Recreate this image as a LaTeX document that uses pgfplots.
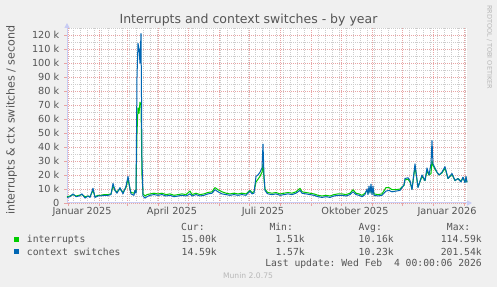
\documentclass[border=0pt]{standalone}
\usepackage{pgfplots}
\pgfplotsset{compat=1.18}
\usepackage{fontspec}
\setmainfont{DejaVu Sans}
\setmonofont{DejaVu Sans Mono}
\usetikzlibrary{arrows.meta}
\definecolor{bgc}{HTML}{F0F0F0}
\definecolor{txt}{HTML}{555555}
\definecolor{mgrid}{HTML}{E8A4A4}
\definecolor{sgrid}{HTML}{CCCCCC}
\definecolor{axc}{HTML}{C8CCF4}
\definecolor{irq}{HTML}{00CC00}
\definecolor{ctx}{HTML}{0066B3}
\definecolor{wm}{HTML}{B8B8B8}
\newcommand{\mono}{\ttfamily\fontsize{9.72bp}{11bp}\selectfont}
\begin{document}
\begin{tikzpicture}
\fill[bgc] (0,0) rectangle (497bp,287bp);
\begin{axis}[
  at={(67bp,84bp)}, anchor=south west,
  scale only axis, width=400bp, height=175bp,
  xmin=-1, xmax=399, ymin=0, ymax=125,
  axis x line=bottom, axis y line=left,
  axis line style={draw=axc, line width=1bp, shorten >=-5bp, -{Triangle[width=5bp,length=5bp]}},
  axis background/.style={fill=white},
  xtick={0,31,59,90,120,151,181,212,243,273,304,334,365,396},
  xticklabels={},
  minor xtick={5,12,...,397},
  ytick={0,10,...,120},
  yticklabels={0,10 k,20 k,30 k,40 k,50 k,60 k,70 k,80 k,90 k,100 k,110 k,120 k},
  minor ytick={5,15,...,125},
  grid=both,
  major grid style={draw=mgrid, dash pattern=on 1bp off 1bp, line width=0.8bp},
  minor grid style={draw=sgrid, dash pattern=on 1bp off 1bp, line width=0.8bp},
  tick align=outside, major tick length=3bp, minor tick length=0bp,
  tick style={draw=mgrid, line width=0.8bp},
  extra x ticks={14,104,195,287,379},
  extra x tick labels={Januar 2025,April 2025,Juli 2025,Oktober 2025,Januar 2026},
  extra x tick style={grid=none, major tick length=0bp},
  tick label style={font=\fontsize{9.72bp}{11bp}\selectfont, text=txt},
  yticklabel style={inner sep=0pt, xshift=-4.5bp},
  xticklabel style={anchor=base, inner sep=0pt, yshift=-12bp},
  clip=false,
]
\addplot[irq, line width=1bp, line join=round, no marks] coordinates {
(-1,4.5) (2,5) (5,6) (8,5) (11,5.5) (14,6) (17,4.5) (20,5) (22,4.5) (25,9) (27,4.5) (30,5.5) (33,5.5) (36,6) (40,6) (43,6.5) (45,12) (47,9) (49,8) (52,10) (55,7.5) (58,11) (60,17) (62,10) (63,7.5) (66,7) (67,9) (68,8) (69,50) (70,68) (71,64) (72,72) (73,70) (74,20) (75,6.5) (77,5) (79,6) (82,6.5) (86,7) (90,6.5) (94,7) (98,6) (102,6.5) (106,5.5) (110,6) (114,6.5) (118,6) (122,8.5) (124,6) (128,7) (132,6) (136,6.5) (140,7.5) (144,8) (147,11) (150,9.5) (154,8) (158,7) (162,6.5) (166,7) (170,6.5) (174,7) (178,6.5) (182,9) (184,7.5) (186,8) (188,15) (190,17) (192,19) (194,22) (195,28) (196,17) (197,10) (199,8)
(200,7.5) (204,7) (208,7.5) (212,6.5) (216,7) (220,7.5) (224,7) (228,8) (232,10.5) (234,8) (238,7.5) (242,7) (246,6.5) (250,5.5) (254,5) (258,5.5) (262,5) (266,6) (270,6.5) (274,6.5) (278,6) (282,7) (285,9.5) (288,7) (291,6.5) (294,5.5) (297,7) (299,9) (300,7)
(301,10) (302,8) (303,11) (304,7) (305,10) (306,6.5) (310,6) (314,6.5) (318,11) (321,11) (324,9.5) (328,9.5) (332,10) (334,11.5) (336,12.5) (337,16.5) (340,17) (342,15) (344,10) (347,26) (350,11.5) (354,19) (357,16) (359,23) (361,20) (363,21) (364,30) (365,27) (367,24) (369,22) (371,20) (374,21.5) (377,25) (380,17.5) (384,20.5) (387,16) (390,17.5) (393,15.5) (395,18) (397,15) (398,18) (399,15)
};
\addplot[ctx, line width=1bp, line join=round, no marks] coordinates {
(-1,4) (2,4.5) (5,6.5) (8,4.5) (11,5) (14,6.5) (17,3.5) (20,5) (22,4) (25,10.5) (27,4) (30,5) (33,5) (36,5.5) (40,5.5) (43,6) (45,14) (47,9) (49,7) (52,11) (55,6.5) (58,12) (60,19) (62,10) (63,6.5) (66,5.5) (67,9) (68,7) (69,90) (70,114) (71,110) (72,100) (73,121) (74,30) (75,5) (77,3.5) (79,4.5) (82,5.5) (86,6) (90,5.5) (94,6) (98,5) (102,5.5) (106,4.5) (110,5) (114,5.5) (118,5) (122,6.5) (124,5) (128,6) (132,5) (136,5.5) (140,6.5) (144,7) (147,9.5) (150,8) (154,6.5) (158,6) (162,5.5) (166,6) (170,5.5) (174,6) (178,5.5) (182,8.5) (184,6.5) (186,7) (188,19) (190,20) (192,22) (194,25) (195,42) (196,20) (197,9) (199,7)
(200,6.5) (204,6) (208,6.5) (212,5.5) (216,6) (220,6.5) (224,6) (228,7) (232,9) (234,7) (238,6.5) (242,6) (246,5.5) (250,4.5) (254,4) (258,4.5) (262,4) (266,5) (270,5.5) (274,5.5) (278,5) (282,6) (285,8) (288,6) (291,5.5) (294,4.5) (297,6) (299,10) (300,6)
(301,12) (302,7) (303,13.5) (304,6) (305,12) (306,5.5) (310,5) (314,5.5) (318,8.5) (321,9) (324,8) (328,8.5) (332,9) (334,11) (336,13) (337,17.5) (340,18) (342,16) (344,9.5) (347,28) (350,11) (354,20) (357,16) (359,25) (361,20) (363,28) (364,44.5) (365,28) (367,25) (369,22) (371,20) (374,22) (377,26) (380,17.5) (384,21) (387,16) (390,17.5) (393,15) (395,18.5) (397,14.5) (398,19) (399,14.6)
};
\end{axis}
% title
\node[anchor=base, text=txt, font=\fontsize{12.5bp}{14bp}\selectfont, inner sep=0pt] at (248.5bp,263bp) {Interrupts and context switches - by year};
% y label
\node[anchor=base, rotate=90, text=txt, font=\fontsize{11.1bp}{13bp}\selectfont, inner sep=0pt] at (14.5bp,167bp) {interrupts \& ctx switches / second};
% watermark
\node[anchor=base west, rotate=-90, text=wm, font=\fontsize{6.5bp}{8bp}\selectfont, inner sep=0pt] at (487.3bp,282bp) {RRDTOOL / TOBI OETIKER};
% legend
\fill[irq] (14.3bp,45.3bp) rectangle +(5bp,5bp);
\fill[ctx] (14.3bp,32.7bp) rectangle +(5bp,5bp);
\begin{scope}[every node/.style={inner sep=0pt, text=txt, font=\mono}]
\node[anchor=base west] at (26.7bp,44.3bp) {interrupts};
\node[anchor=base west] at (26.7bp,32bp) {context switches};
\node[anchor=base west] at (181bp,56.3bp) {Cur:};
\node[anchor=base west] at (269.3bp,56.3bp) {Min:};
\node[anchor=base west] at (358.3bp,56.3bp) {Avg:};
\node[anchor=base west] at (446.7bp,56.3bp) {Max:};
\node[anchor=base east] at (217bp,44.3bp) {15.00k};
\node[anchor=base east] at (305bp,44.3bp) {1.51k};
\node[anchor=base east] at (394bp,44.3bp) {10.16k};
\node[anchor=base east] at (482bp,44.3bp) {114.59k};
\node[anchor=base east] at (217bp,32bp) {14.59k};
\node[anchor=base east] at (305bp,32bp) {1.57k};
\node[anchor=base east] at (394bp,32bp) {10.23k};
\node[anchor=base east] at (482bp,32bp) {201.54k};
\node[anchor=base east] at (482bp,20.3bp) {Last update:\ Wed Feb\ \ 4 00:00:06 2026};
\end{scope}
\node[anchor=base, inner sep=0pt, text=wm, font=\fontsize{7.64bp}{9bp}\selectfont] at (248bp,8.7bp) {Munin 2.0.75};
\pgfresetboundingbox
\path (0,0) rectangle (497bp,287bp);
\end{tikzpicture}
\end{document}
